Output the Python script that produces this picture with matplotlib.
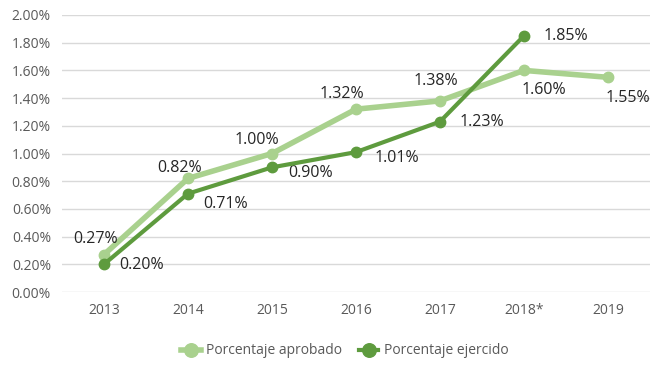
import matplotlib.pyplot as plt
from matplotlib.ticker import FuncFormatter

years = ['2013', '2014', '2015', '2016', '2017', '2018*', '2019']
aprobado = [0.27, 0.82, 1.00, 1.32, 1.38, 1.60, 1.55]
ejercido = [0.20, 0.71, 0.90, 1.01, 1.23, 1.85]

# label offsets (pixels) from each point
off_apr = [(-8, 16), (-8, 10), (-15, 13), (-14, 15), (-4, 20), (20, -20), (20, -21)]
off_eje = [(38, -1), (38, -10), (39, -6), (41, -6), (42, 0), (42, 0)]

light = '#A9D18E'
dark = '#5E9B3E'

plt.rcParams['font.family'] = ['Open Sans', 'DejaVu Sans']

fig = plt.figure(figsize=(6.65, 3.71), dpi=100)
ax = fig.add_axes([62 / 665, 1 - 292 / 371, 588 / 665, 277 / 371])

x = list(range(len(years)))
ax.plot(x, aprobado, color=light, lw=4, marker='o', ms=7.5, label='Porcentaje aprobado', zorder=3)
ax.plot(x[:len(ejercido)], ejercido, color=dark, lw=3, marker='o', ms=7.5, label='Porcentaje ejercido', zorder=4)

for i, v in enumerate(aprobado):
    ax.annotate(f'{v:.2f}%', (i, v), xytext=off_apr[i], textcoords='offset pixels',
                ha='center', va='center', fontsize=11.5, color='#262626')
for i, v in enumerate(ejercido):
    ax.annotate(f'{v:.2f}%', (i, v), xytext=off_eje[i], textcoords='offset pixels',
                ha='center', va='center', fontsize=11.5, color='#262626')

ax.set_xlim(-0.5, len(years) - 0.5)
ax.set_ylim(0, 2.0)
ax.set_yticks([i * 0.2 for i in range(11)])
ax.yaxis.set_major_formatter(FuncFormatter(lambda v, p: f'{v:.2f}%'))
ax.set_xticks(x)
ax.set_xticklabels(years)
ax.grid(axis='y', color='#D9D9D9', lw=1)
ax.set_axisbelow(True)
for s in ax.spines.values():
    s.set_visible(False)
ax.tick_params(length=0, labelsize=10, colors='#595959', pad=8)

fig.legend(loc='center', bbox_to_anchor=(345 / 665, 1 - 351 / 371), ncol=2, frameon=False,
           fontsize=10, labelcolor='#595959', handlelength=1.4, handletextpad=0.4,
           columnspacing=1.2, markerscale=1.3)

fig.savefig('out.png', dpi=100)
